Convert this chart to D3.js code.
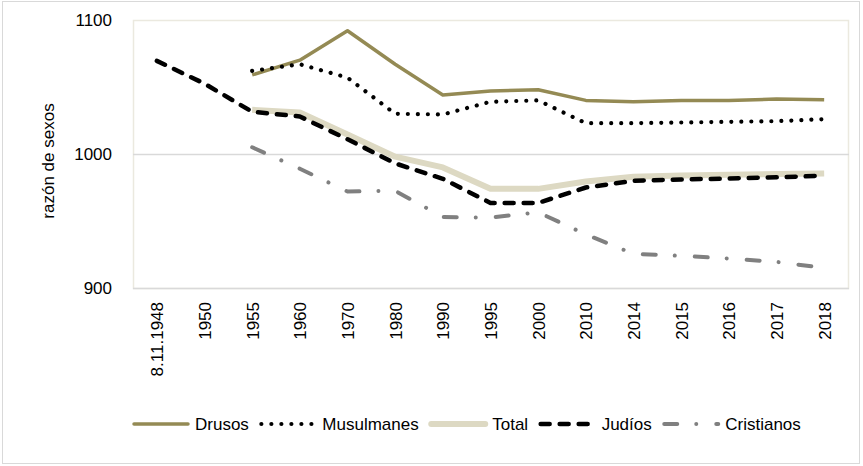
<!DOCTYPE html>
<html>
<head>
<meta charset="utf-8">
<script src="https://cdn.jsdelivr.net/npm/d3@7/dist/d3.min.js"></script>
<style>
  html, body { margin: 0; padding: 0; background: #fff; }
  svg { display: block; font-family: "Liberation Sans", Arial, sans-serif; }
</style>
</head>
<body>
<svg id="chart" width="863" height="466"></svg>
<script>
const categories = ["8.11.1948","1950","1955","1960","1970","1980","1990","1995","2000","2010","2014","2015","2016","2017","2018"];
const drusos     = [null, null, 1059, 1070, 1092, 1067, 1044, 1047, 1048, 1040, 1039, 1040, 1040, 1041, 1040.5];
const musulmanes = [null, null, 1062, 1067, 1057, 1030, 1029.5, 1039, 1040, 1023, 1023, 1023.5, 1024, 1024.5, 1026];
const total      = [null, null, 1033, 1031, 1014.5, 998, 990, 974, 974, 979.5, 983, 984, 984.5, 985, 985.5];
const judios     = [1069.5, 1052.5, 1031.5, 1028, 1011, 993, 981.5, 963.5, 963.5, 975, 980, 981, 981.7, 982.6, 983.8];
const cristianos = [null, null, 1005, 989, 972, 972.5, 953, 952.5, 956.5, 940, 925.5, 924, 922, 919.5, 915];
const yTicks = [900, 1000, 1100];
const yTitle = "razón de sexos";

const series = [
  { name: "Drusos",     values: drusos,     color: "#948a54", width: 3.5, dash: null,            cap: "butt"  },
  { name: "Musulmanes", values: musulmanes, color: "#000000", width: 4.2, dash: "0.01 10",       cap: "round" },
  { name: "Total",      values: total,      color: "#ddd9c3", width: 6,   dash: null,            cap: "butt"  },
  { name: "Judíos",     values: judios,     color: "#000000", width: 4.5, dash: "9 10",          cap: "round" },
  { name: "Cristianos", values: cristianos, color: "#808080", width: 4,   dash: "13 19 0.01 20", cap: "round" }
];

const FS = 17;
const svg = d3.select("#chart");
const W = 863, H = 466;
const plot = { left: 133, right: 848, top: 20, bottom: 288 };

// outer border
svg.append("rect").attr("x", 2.5).attr("y", 1.5).attr("width", W - 6).attr("height", H - 4)
  .attr("fill", "#fff").attr("stroke", "#d9d9d9").attr("stroke-width", 1);

const x = d3.scalePoint().domain(categories).range([plot.left, plot.right]).padding(0.5);
const y = d3.scaleLinear().domain([900, 1100]).range([plot.bottom, plot.top]);

// plot area border
svg.append("rect").attr("x", plot.left + 0.5).attr("y", plot.top + 0.5)
  .attr("width", plot.right - plot.left).attr("height", plot.bottom - plot.top)
  .attr("fill", "none").attr("stroke", "#ebe9df").attr("stroke-width", 1.5);

// gridlines
svg.append("g").selectAll("line").data(yTicks.filter(t => t < 1100)).join("line")
  .attr("x1", plot.left).attr("x2", plot.right + 1)
  .attr("y1", d => Math.round(y(d)) + 0.5).attr("y2", d => Math.round(y(d)) + 0.5)
  .attr("stroke", "#d9d9d9").attr("stroke-width", 1.5);

// y axis labels
const yAxis = d3.axisLeft(y).tickValues(yTicks).tickSize(0).tickPadding(0).tickFormat(d3.format("d"));
const gy = svg.append("g").attr("transform", `translate(112,0)`).call(yAxis);
gy.select(".domain").remove();
gy.selectAll("text").attr("font-size", FS).attr("fill", "#000").attr("font-family", "Liberation Sans, Arial, sans-serif");

// x axis labels
const xAxis = d3.axisBottom(x).tickSize(0).tickPadding(0);
const gx = svg.append("g").attr("transform", `translate(0,${plot.bottom})`).call(xAxis);
gx.select(".domain").remove();
gx.selectAll("text")
  .attr("font-size", FS).attr("fill", "#000").attr("font-family", "Liberation Sans, Arial, sans-serif")
  .attr("text-anchor", "end")
  .attr("transform", "translate(0,14) rotate(-90)")
  .attr("x", 0).attr("y", 0).attr("dy", "0.35em");

// y title
svg.append("text").attr("transform", `translate(54,161) rotate(-90)`)
  .attr("text-anchor", "middle").attr("font-size", FS).attr("fill", "#000")
  .text(yTitle);

// lines
const line = d3.line()
  .defined(d => d.v != null)
  .x(d => x(d.c)).y(d => y(d.v));

svg.append("g").selectAll("path").data(series).join("path")
  .attr("d", s => line(categories.map((c, i) => ({ c, v: s.values[i] }))))
  .attr("fill", "none")
  .attr("stroke", s => s.color)
  .attr("stroke-width", s => s.width)
  .attr("stroke-dasharray", s => s.dash)
  .attr("stroke-linecap", s => s.cap)
  .attr("stroke-linejoin", "round");

// legend
const legend = svg.append("g").attr("transform", "translate(132,424)");
let lx = 0;
series.forEach(s => {
  const g = legend.append("g").attr("transform", `translate(${lx},0)`);
  g.append("line").attr("x1", 2).attr("x2", 56).attr("y1", 0).attr("y2", 0)
    .attr("stroke", s.color).attr("stroke-width", s.width)
    .attr("stroke-dasharray", s.dash).attr("stroke-linecap", "round");
  const t = g.append("text").attr("x", 63).attr("dy", "0.35em")
    .attr("font-size", FS).attr("fill", "#000").text(s.name);
  lx += 63 + t.node().getComputedTextLength() + 10.5;
});
</script>
</body>
</html>
